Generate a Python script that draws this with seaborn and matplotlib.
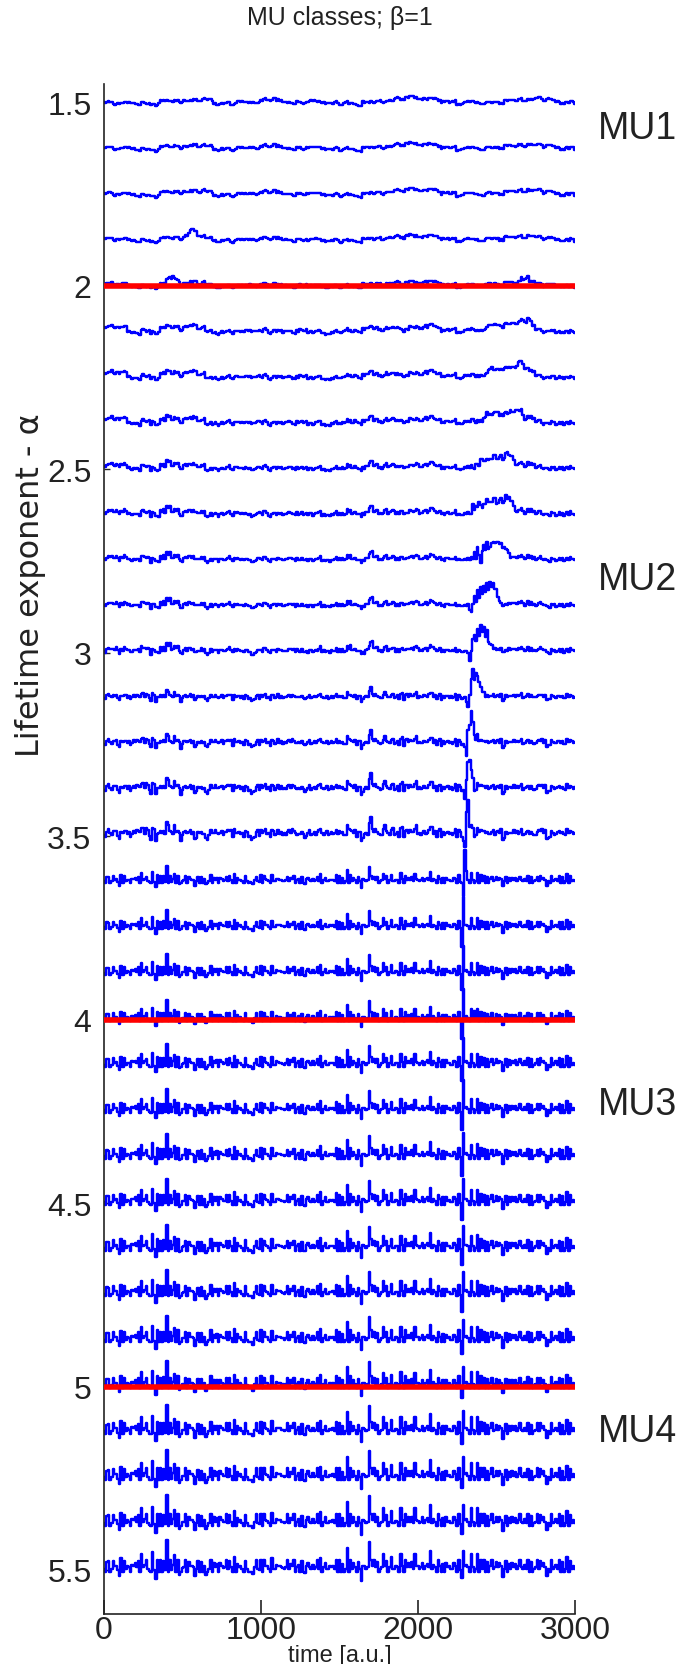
import numpy as np
import pandas as pd
import matplotlib
matplotlib.use("Agg")
import matplotlib.pyplot as plt
import seaborn as sns

# ---------------- data ----------------
alphas = [1.5, 1.625, 1.75, 1.875, 2.0, 2.125, 2.25, 2.375, 2.5, 2.625, 2.75,
          2.875, 3.0, 3.125, 3.25, 3.375, 3.5, 3.625, 3.75, 3.875, 4.0, 4.125,
          4.25, 4.375, 4.5, 4.625, 4.75, 4.875, 5.0, 5.125, 5.25, 5.375, 5.5]
red_alphas = [2.0, 4.0, 5.0]
alpha_ticks = [1.5, 2, 2.5, 3, 3.5, 4, 4.5, 5, 5.5]
alpha_ticklabels = ["1.5", "2", "2.5", "3", "3.5", "4", "4.5", "5", "5.5"]
time_ticks = [0, 1000, 2000, 3000]
class_labels = ["MU1", "MU2", "MU3", "MU4"]
class_label_alpha = [1.57, 2.80, 4.23, 5.12]

# slow wander (pixels, up = positive) every 50 time units
drift_a = [0, -1, -1, -1, -1, -1.5, -2, 0.5, 1, 1, 1.5, 2, 2.5, 1.5, -1, -1, -1.5,
           -0.5, 0, 0.5, 2, 3, 1, 0, -0.5, 0, 0.5, 0, 0, -1, -1.5, -1, -2.5, -1, 0,
           1, 1.5, 3.5, 4, 4.5, 4, 3, 2.5, 1, 0, -1, -0.5, -0.5, -1, 0, 0, 1, 1.5,
           2.5, 3, 3.5, 2.5, 1, 0, 0, -0.5]
drift_b = [4, 5, 4, -1, -1, 0, -1, 2, 3, 3, 4, 5, 3, -1, -1, -1, 0, -1, 1, 1, 0,
           -1, -1, 0, -1, 1.5, -2, -1, -2, -1, 0, 0, 1, 2, 2, 1, 3, 2, 0, 2, 3, 4,
           3, 1, 1, 0, 1, 0, 2, 4, 3, 4, 4, 5, 6, 0, -1, -1, 0, -1, -1]

# fine jitter, one digit every 10 time units
texture = ("20310230410302203014031023002403103020413021030240"
           "03202403021030420230031024030223040230203204023021"
           "30240203220403023020420310302403202302403022030240"
           "20302403203022040230240320230420302203024023032204"
           "02302403220302403023022040310240302302403220304023"
           "23040230220302403202403023022403020423022030240320"
           "20")
# stair-like jitter of the upper traces, one digit every 30 time units
stairs = ("1201221021102212011202210120221101202211020122101"
          "2021102212011202210122011201221021102212011202210"
          "1202")

# shared spike events (time, height in px)
event_t = [30, 70, 110, 150, 200, 242, 272, 313, 331, 360, 403, 420, 450, 484,
           520, 560, 600, 650, 700, 740, 783, 830, 870, 930, 974, 1020, 1070,
           1120, 1166, 1210, 1260, 1300, 1363, 1410, 1460, 1500, 1548, 1590,
           1643, 1688, 1720, 1777, 1830, 1892, 1940, 1981, 2030, 2083, 2130,
           2180, 2230, 2344, 2380, 2420, 2470, 2520, 2560, 2600, 2650, 2700,
           2758, 2800, 2850, 2900, 2950, 2990]
event_h = [6, 4, 6, 4, 6, 10, 8, 10, -5, 6, 18, 6, 8, -6, 6, 4, 6, -4, 6, 4, 8,
           6, 4, -4, 8, 6, 6, 4, 8, 6, 4, 6, 8, 6, 4, 6, 12, 6, -6, 20, 8, 12,
           10, 10, 6, 12, 6, 12, 6, 4, 6, 10, 8, 6, 8, 6, 4, 6, 8, 4, 8, 6, 4,
           6, 6, 4]
# smaller, denser spikes seen in the lower traces
event2_t = [15, 55, 95, 130, 175, 215, 258, 290, 345, 380, 435, 470, 505, 545,
            585, 625, 675, 720, 760, 805, 850, 900, 950, 995, 1045, 1095, 1145,
            1190, 1235, 1280, 1330, 1385, 1435, 1480, 1525, 1570, 1615, 1665,
            1705, 1745, 1800, 1855, 1915, 1960, 2005, 2055, 2105, 2155, 2205,
            2255, 2310, 2400, 2445, 2495, 2540, 2580, 2625, 2675, 2725, 2780,
            2825, 2875, 2925, 2970]
event2_h = [4, 5, -3, 6, 4, 7, 5, -4, 6, 4, 5, 7, 3, 5, -3, 4, 6, 5, 3, 6, 4,
            5, -4, 6, 4, 5, 3, 6, 4, -3, 5, 6, 4, 5, 3, 6, 5, 4, 7, 5, 6, 4, 7,
            5, 4, 6, 5, 3, 4, 6, 5, 6, 4, 5, -4, 4, 6, 5, 4, 6, -3, 5, 4, 5]

w_drift_a = [1.0, 0.9, 0.9, 0.7, 0.5, 0.2, 0.1, 0, 0, 0, 0, 0, 0, 0, 0, 0, 0,
             0, 0, 0, 0, 0, 0, 0, 0, 0, 0, 0, 0, 0, 0, 0, 0]
w_drift_b = [0, 0.1, 0.2, 0.3, 0.5, 1.0, 1.0, 0.9, 0.7, 0.5, 0.4, 0.3, 0.2, 0.1,
             0, 0, 0, 0, 0, 0, 0, 0, 0, 0, 0, 0, 0, 0, 0, 0, 0, 0, 0]
w_stairs = [1.2, 1.2, 1.2, 1.2, 1.2, 1.2, 1.1, 1.0, 0.9, 0.8, 0.6, 0.5, 0.4,
            0.3, 0.2, 0.1, 0, 0, 0, 0, 0, 0, 0, 0, 0, 0, 0, 0, 0, 0, 0, 0, 0]
w_texture = [0.3, 0.3, 0.3, 0.3, 0.3, 0.4, 0.4, 0.5, 0.5, 0.6, 0.6, 0.6, 0.7,
             0.7, 0.8, 0.8, 0.9, 1.0, 1.0, 1.1, 1.1, 1.2, 1.2, 1.3, 1.3, 1.4,
             1.4, 1.4, 1.4, 1.4, 1.4, 1.4, 1.4]
w_event = [0, 0, 0, 0, 0, 0.1, 0.15, 0.2, 0.25, 0.3, 0.3, 0.3, 0.35, 0.4, 0.5,
           0.6, 0.7, 0.8, 0.9, 1.0, 1.0, 1.05, 1.1, 1.15, 1.2, 1.2, 1.25, 1.25,
           1.3, 1.4, 1.45, 1.5, 1.5]
w_event2 = [0, 0, 0, 0, 0, 0, 0, 0, 0.1, 0.1, 0.2, 0.2, 0.3, 0.4, 0.5, 0.6,
            0.7, 0.8, 0.9, 1.0, 1.0, 1.1, 1.1, 1.2, 1.2, 1.2, 1.2, 1.3, 1.3,
            1.3, 1.3, 1.3, 1.3]
event_width = [3, 3, 3, 3, 3, 3, 3, 3, 3, 3, 3, 3, 3, 2, 2, 2, 2, 1, 1, 1, 1, 1,
               1, 1, 1, 1, 1, 1, 1, 1, 1, 1, 1]

# trace-specific bursts: piecewise-constant (time, px) segments
extras = [
    [], [], [],
    [(520, 2), (540, 4), (550, 6), (560, 8), (570, 6), (580, 5), (600, 3), (620, 1)],
    [(400, 3), (410, 5), (420, 7), (430, 5), (440, 8), (450, 4), (470, 2), (490, 0),
     (2660, 3), (2680, 5), (2700, 4)],
    [(2450, 2), (2500, 3), (2520, 5), (2530, 2), (2550, 2), (2600, 3), (2650, 4),
     (2670, 6), (2690, 4), (2700, 6), (2720, 3)],
    [(2450, 3), (2470, 6), (2480, 2), (2500, 5), (2550, 4), (2600, 5), (2630, 7),
     (2640, 9), (2660, 8), (2680, 5), (2700, 2)],
    [(2420, 3), (2440, 7), (2450, 4), (2480, 5), (2500, 8), (2520, 5), (2560, 5),
     (2590, 8), (2600, 6), (2620, 9), (2640, 7), (2650, 6), (2670, 3)],
    [(2350, -3), (2370, 5), (2380, 2), (2400, 6), (2410, 9), (2420, 5), (2450, 6),
     (2480, 9), (2500, 7), (2520, 10), (2540, 8), (2560, 11), (2570, 13),
     (2580, 9), (2600, 8), (2610, 4)],
    [(2340, -4), (2350, 6), (2360, 2), (2370, 9), (2380, 4), (2390, 11), (2400, 6),
     (2420, 8), (2440, 11), (2460, 9), (2480, 12), (2500, 9), (2520, 13),
     (2540, 11), (2560, 15), (2570, 13), (2590, 10), (2610, 4)],
    [(2350, -3), (2360, 6), (2370, 2), (2380, 10), (2390, 4), (2400, -7),
     (2410, 8), (2420, 12), (2430, 9), (2440, 14), (2450, 10), (2470, 15),
     (2490, 13), (2500, 16), (2520, 14), (2540, 12), (2560, 8), (2580, 3)],
    [(2330, -4), (2340, -9), (2350, -2), (2360, 8), (2370, 4), (2380, 13),
     (2390, 7), (2400, 15), (2410, 11), (2420, 17), (2430, 13), (2440, 19),
     (2450, 15), (2460, 21), (2470, 17), (2480, 20), (2490, 13), (2500, 15),
     (2510, 7), (2520, 3), (2530, 0)],
    [(2320, -4), (2330, -10), (2340, -3), (2350, 9), (2360, 15), (2370, 11),
     (2380, 19), (2390, 15), (2400, 22), (2410, 18), (2420, 21), (2430, 14),
     (2440, 17), (2450, 9), (2460, 5), (2480, 0)],
    [(2310, -5), (2320, -12), (2330, 4), (2340, 15), (2350, 24), (2360, 19),
     (2370, 25), (2380, 17), (2390, 14), (2400, 8), (2410, 4), (2430, 0)],
    [(2300, -5), (2310, -13), (2320, 10), (2330, 20), (2340, 28), (2350, 16),
     (2360, 10), (2370, 4), (2390, 0)],
    [(2300, -11), (2310, 8), (2320, 24), (2330, 31), (2340, 14), (2350, 5), (2360, 0)],
    [(2290, -6), (2300, -13), (2310, 22), (2320, 31), (2330, 10), (2340, 3), (2350, 0)],
    [(2290, -15), (2300, 29), (2310, 8)],
    [(2280, -18), (2290, 30)],
    [(2280, -15), (2290, 27)],
    [(2280, -18), (2290, 30), (2360, 10)],
    [(2280, -14), (2290, 27)],
    [(2280, -17), (2290, 30)],
    [(2280, -17), (2290, 23)],
    [(2280, -15), (2290, 23)],
    [(2280, -14), (2290, 22)],
    [(2280, -16), (2290, 22)],
    [(2280, -12), (2290, 20)],
    [(2280, -10), (2290, 18)],
    [(2280, -10), (2290, 20)],
    [(2280, -8), (2290, 20)],
    [(2280, -8), (2290, 18)],
    [(2280, -6), (2290, 18)],
]

# ---------------- build long table ----------------
PX_PER_ALPHA = 367.5
STEP = 10
t = np.arange(0, 3001, STEP)
n = len(t)
da = np.repeat(np.array(drift_a, float), 5)[:n]
db = np.repeat(np.array(drift_b, float), 5)[:n]
tex = np.array([int(c) for c in texture], float)[:n]
stp = np.repeat(np.array([int(c) for c in stairs], float), 3)[:n]


def spikes(times, heights, width):
    out = np.zeros(n)
    for et, eh in zip(times, heights):
        k = int(round(et / STEP))
        out[k:k + width] += eh
    return out


frames = []
for i, a in enumerate(alphas):
    dev = (w_drift_a[i] * da + w_drift_b[i] * db + w_stairs[i] * (stp - 1.0)
           + w_texture[i] * (tex - 1.2))
    dev = dev + w_event[i] * spikes(event_t, event_h, event_width[i])
    dev = dev + w_event2[i] * spikes(event2_t, event2_h, event_width[i])
    seg = extras[i]
    for j, (et, eh) in enumerate(seg):
        k0 = int(round(et / STEP))
        k1 = int(round(seg[j + 1][0] / STEP)) if j + 1 < len(seg) else k0 + 1
        if k1 - k0 > 5:
            k1 = k0 + 1
        dev[k0:k1] += eh
    frames.append(pd.DataFrame({"time": t, "alpha": a - dev / PX_PER_ALPHA,
                                "trace": i}))
df = pd.concat(frames, ignore_index=True)

red_df = pd.DataFrame({"time": [0, 3000] * len(red_alphas),
                       "alpha": [v for v in red_alphas for _ in range(2)],
                       "trace": [j for j in range(len(red_alphas)) for _ in range(2)]})

# ---------------- plot ----------------
sns.set_style("ticks")
plt.rcParams["font.family"] = ["Liberation Sans", "DejaVu Sans"]
INK = "#222222"

fig = plt.figure(figsize=(6.8, 16.65), dpi=100)
ax = fig.add_axes([104 / 680, 1 - 1615 / 1665, 471 / 680, (1615 - 85) / 1665])

sns.lineplot(data=df, x="time", y="alpha", units="trace", estimator=None,
             color="#0000ff", lw=1.75, drawstyle="steps-mid", sort=False, ax=ax,
             zorder=2)
sns.lineplot(data=red_df, x="time", y="alpha", units="trace", estimator=None,
             color="#ff0000", lw=4.0, sort=False, ax=ax, zorder=3)

ax.set_xlim(0, 3000)
ax.set_ylim(5.62, 1.45)
ax.set_xticks(time_ticks)
ax.set_xticklabels([str(v) for v in time_ticks])
ax.set_yticks(alpha_ticks)
ax.set_yticklabels(alpha_ticklabels)
ax.tick_params(axis="both", direction="in", labelsize=23, colors=INK)
ax.tick_params(axis="x", length=10, width=1.2, pad=1)
ax.tick_params(axis="y", length=4, width=1.0, pad=9)
for s in ["top", "right"]:
    ax.spines[s].set_visible(False)
for s in ["left", "bottom"]:
    ax.spines[s].set_linewidth(1.2)
    ax.spines[s].set_color(INK)

ax.set_xlabel("time [a.u.]", fontsize=17, color=INK)
ax.xaxis.set_label_coords(0.5, -(1656 - 1615) / 1530)
ax.xaxis.label.set_va("center")
ax.set_ylabel("Lifetime exponent - \u03b1", fontsize=23, color=INK,
              family=["DejaVu Sans"])
ax.yaxis.set_label_coords((30 - 104) / 471, 1 - (585 - 85) / 1530)
ax.yaxis.label.set_va("center")
ax.set_title("MU classes; \u03b2=1", fontsize=18, color=INK, pad=43)

for lab, ya in zip(class_labels, class_label_alpha):
    ax.text(3400, ya, lab, fontsize=27, color=INK, ha="center",
            va="center", clip_on=False)

fig.savefig("out.png", dpi=100)
